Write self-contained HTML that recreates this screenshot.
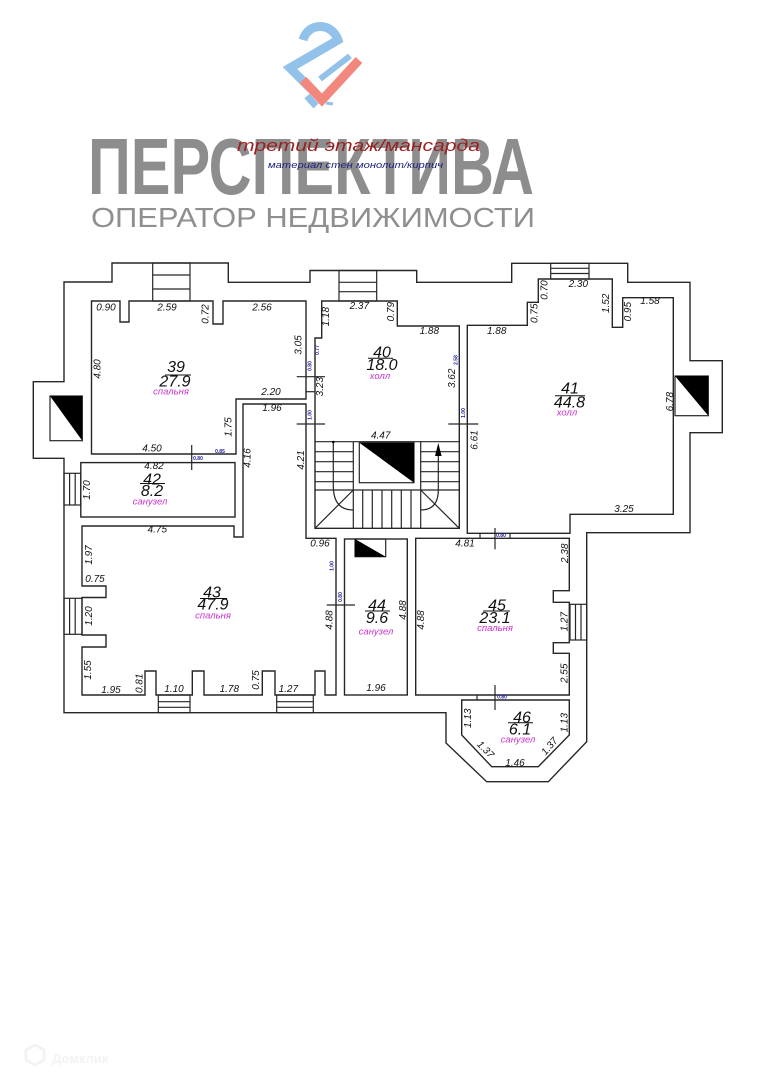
<!DOCTYPE html>
<html><head><meta charset="utf-8">
<style>
html,body{margin:0;padding:0;background:#fff;}
svg{display:block;}
.w{fill:none;stroke:#262626;stroke-width:1.4;}
.t{stroke:#262626;stroke-width:1.2;fill:none;}
.d{font-family:"Liberation Sans",sans-serif;font-style:italic;font-size:10px;fill:#111;}
.n{font-family:"Liberation Sans",sans-serif;font-style:italic;font-size:16px;fill:#111;}
.m{font-family:"Liberation Sans","DejaVu Sans",sans-serif;font-style:italic;font-size:9.5px;fill:#cc33cc;}
.b{font-family:"Liberation Sans",sans-serif;font-weight:bold;font-size:5px;fill:#1c1ca0;}
</style></head>
<body>
<svg width="763" height="1079" viewBox="0 0 763 1079" xmlns="http://www.w3.org/2000/svg">
<rect width="763" height="1079" fill="#fff"/>

<!-- LOGO -->
<g fill="none" stroke-linejoin="miter">
<path d="M303,40 C308,22 332,22 338,40 L290,68 L310,88" stroke="#92c2ea" stroke-width="9"/>
<path d="M320,79 L350,56" stroke="#92c2ea" stroke-width="6"/>
<path d="M307,96 L316,106" stroke="#92c2ea" stroke-width="7"/>
<path d="M326,103 L333,104" stroke="#92c2ea" stroke-width="3"/>
<path d="M303,80 L322,100 L359,60" stroke="#f2877e" stroke-width="9"/>
</g>
<text x="88" y="194" font-family="Liberation Sans, sans-serif" font-weight="bold" font-size="80" fill="#8d8d8d" textLength="446" lengthAdjust="spacingAndGlyphs">ПЕРСПЕКТИВА</text>
<text x="91" y="227" font-family="Liberation Sans, sans-serif" font-size="28" fill="#8f8f8f" textLength="444" lengthAdjust="spacingAndGlyphs">ОПЕРАТОР НЕДВИЖИМОСТИ</text>
<text x="237" y="151" font-family="Liberation Sans, sans-serif" font-style="italic" font-size="17" fill="#9c1f1f" textLength="243" lengthAdjust="spacingAndGlyphs">третий этаж/мансарда</text>
<text x="268" y="168" font-family="Liberation Sans, sans-serif" font-style="italic" font-size="9.5" fill="#1a237e" textLength="175" lengthAdjust="spacingAndGlyphs">материал стен монолит/кирпич</text>

<!-- OUTER WALL -->
<polygon class="w" points="64,381.7 64,282 112,282 112,263 228.3,263 228.3,282.3 310,282.3 310,270.5 416.7,270.5 416.7,282.3 511.7,282.3 511.7,263.3 627.7,263.3 627.7,282.3 690,282.3 690,360.7 722.3,360.7 722.3,432.7 690,432.7 690,532.7 586.7,532.7 586.7,741.7 548.3,781.7 486.7,781.7 446,743 446,712.7 64,712.7 64,458.3 33.3,458.3 33.3,381.7"/>

<!-- ROOMS -->
<polygon class="w" points="91.5,301 120,301 120,322 129,322 129,301 213,301 213,324 223,324 223,301 306,301 306,399 236,399 236,454 91.5,454"/>
<rect class="w" x="80.8" y="462.6" width="154.2" height="54.4"/>
<polygon class="w" points="82,526 234,526 234,537 243,537 243,404 306,404 306,538.3 336,538.3 336,695 325,695 325,671 315,671 315,695 275,695 275,671 262.3,671 262.3,695 204,695 204,671 192.3,671 192.3,695 156,695 156,671 145,671 145,695 82,695 82,647 106,647 106,635 82,635 82,597.5 106,597.5 106,586 82,586"/>
<polygon class="w" points="321.7,301 397.3,301 397.3,326 459.3,326 459.3,528.3 315,528.3 315,338 321.7,338"/>
<polygon class="w" points="467.3,325.3 527.3,325.3 527.3,302.3 538.3,302.3 538.3,279 612.3,279 612.3,327.3 622.7,327.3 622.7,297.7 673.3,297.7 673.3,514.3 570,514.3 570,533.3 467.3,533.3"/>
<rect class="w" x="344.5" y="539" width="62.8" height="156"/>
<polygon class="w" points="415.7,538.3 569.3,538.3 569.3,590.7 553.3,590.7 553.3,602.3 569.3,602.3 569.3,642.7 553.3,642.7 553.3,653.3 569.3,653.3 569.3,695 415.7,695"/>
<polygon class="w" points="461.7,700 569.3,700 569.3,735 538.3,766.7 491.7,766.7 461.7,735"/>
<line class="t" x1="306" y1="391.7" x2="315" y2="391.7"/>

<!-- WINDOWS -->
<g class="t">
<rect x="152.7" y="263" width="37.3" height="38"/><line x1="152.7" y1="275" x2="190" y2="275"/><line x1="152.7" y1="289" x2="190" y2="289"/>
<rect x="339" y="270.5" width="37.7" height="30.5"/><line x1="339" y1="282.3" x2="376.7" y2="282.3"/><line x1="339" y1="291.7" x2="376.7" y2="291.7"/>
<rect x="550.7" y="263.3" width="38.3" height="15.7"/><line x1="550.7" y1="268.3" x2="589" y2="268.3"/><line x1="550.7" y1="273.5" x2="589" y2="273.5"/>
<rect x="64" y="473.3" width="16.8" height="31.7"/><line x1="69.6" y1="473.3" x2="69.6" y2="505"/><line x1="75.2" y1="473.3" x2="75.2" y2="505"/>
<rect x="64" y="598.3" width="18" height="36"/><line x1="69.6" y1="598.3" x2="69.6" y2="634.3"/><line x1="75.2" y1="598.3" x2="75.2" y2="634.3"/>
<rect x="158.3" y="695" width="31.7" height="17.7"/><line x1="158.3" y1="701.7" x2="190" y2="701.7"/><line x1="158.3" y1="707.3" x2="190" y2="707.3"/>
<rect x="276.7" y="695" width="36.6" height="17.7"/><line x1="276.7" y1="701.7" x2="313.3" y2="701.7"/><line x1="276.7" y1="707.3" x2="313.3" y2="707.3"/>
<rect x="570" y="604.3" width="16.7" height="35.7"/><line x1="575.5" y1="604.3" x2="575.5" y2="640"/><line x1="581" y1="604.3" x2="581" y2="640"/>
</g>

<!-- VENTS -->
<rect class="t" x="50" y="396" width="32.3" height="44.7"/><polygon points="50,396 82.3,396 82.3,440.7" fill="#000"/>
<rect class="t" x="675" y="376" width="33.3" height="39.7"/><polygon points="675,376 708.3,376 708.3,415.7" fill="#000"/>
<rect class="t" x="359.3" y="442.7" width="54.7" height="40"/><polygon points="359.3,442.7 414,442.7 414,482.7" fill="#000"/>
<rect class="t" x="355" y="539" width="30.7" height="17.7"/><polygon points="355,539 385.7,556.7 355,556.7" fill="#000"/>

<!-- STAIRS -->
<g class="t">
<line x1="315" y1="441.7" x2="459.3" y2="441.7"/>
<line x1="315" y1="490" x2="459.3" y2="490"/>
<line x1="353.3" y1="441.7" x2="353.3" y2="528.3"/>
<line x1="420.7" y1="441.7" x2="420.7" y2="528.3"/>
<line x1="315" y1="451.7" x2="353.3" y2="451.7"/><line x1="315" y1="461.7" x2="353.3" y2="461.7"/><line x1="315" y1="471.7" x2="353.3" y2="471.7"/><line x1="315" y1="481.7" x2="353.3" y2="481.7"/>
<line x1="420.7" y1="451.7" x2="459.3" y2="451.7"/><line x1="420.7" y1="461.7" x2="459.3" y2="461.7"/><line x1="420.7" y1="471.7" x2="459.3" y2="471.7"/><line x1="420.7" y1="481.7" x2="459.3" y2="481.7"/>
<line x1="362.7" y1="490" x2="362.7" y2="528.3"/><line x1="372.3" y1="490" x2="372.3" y2="528.3"/><line x1="382" y1="490" x2="382" y2="528.3"/><line x1="391.7" y1="490" x2="391.7" y2="528.3"/><line x1="401.3" y1="490" x2="401.3" y2="528.3"/><line x1="411" y1="490" x2="411" y2="528.3"/>
<line x1="315" y1="528.3" x2="353.3" y2="490"/>
<line x1="420.7" y1="490" x2="459.3" y2="528.3"/>
<path d="M333.3,442 L333.3,486 Q333.3,510 353.3,510"/>
<path d="M420.7,510 Q438.3,510 438.3,490 L438.3,450"/>
</g>
<polygon points="438.3,443 435,456 441.6,456" fill="#000"/>
<circle cx="333.3" cy="442" r="1.3" fill="#000"/>

<!-- DOOR TICKS -->
<g class="t">
<line x1="296.7" y1="376.7" x2="325" y2="376.7"/>
<line x1="296.7" y1="424" x2="325" y2="424"/>
<line x1="448.3" y1="424" x2="478.3" y2="424"/>
<line x1="191.7" y1="445" x2="191.7" y2="470"/>
<line x1="326.7" y1="605" x2="355" y2="605"/>
<line x1="495" y1="528" x2="495" y2="549.3"/>
<line x1="495" y1="685" x2="495" y2="710"/>
<line x1="480" y1="533.3" x2="480" y2="538.3"/>
<line x1="510" y1="533.3" x2="510" y2="538.3"/>
<line x1="477" y1="695" x2="477" y2="700"/>
</g>

<!-- BLUE DOOR LABELS -->
<g class="b" text-anchor="middle" dominant-baseline="central">
<text transform="translate(310.5,366) rotate(-90)">0.80</text>
<text transform="translate(317.8,350) rotate(-90)">0.77</text>
<text transform="translate(310.5,415) rotate(-90)">1.00</text>
<text transform="translate(464,413) rotate(-90)">1.00</text>
<text transform="translate(456.7,360) rotate(-90)">2.58</text>
<text x="198" y="459">0.80</text>
<text x="220" y="452">0.85</text>
<text transform="translate(332.7,566) rotate(-90)">1.00</text>
<text transform="translate(341,597) rotate(-90)">0.80</text>
<text x="501" y="536">0.80</text>
<text x="502" y="697.5">0.80</text>
</g>

<!-- DIMENSIONS -->
<g class="d" text-anchor="middle" dominant-baseline="central">
<!-- 39 -->
<text x="106" y="308">0.90</text>
<text x="167" y="308">2.59</text>
<text transform="translate(206,314) rotate(-90)">0.72</text>
<text x="262" y="308">2.56</text>
<text transform="translate(299,345) rotate(-90)">3.05</text>
<text transform="translate(98,369) rotate(-90)">4.80</text>
<text x="271" y="392.5">2.20</text>
<text transform="translate(229,427) rotate(-90)">1.75</text>
<text x="152" y="449">4.50</text>
<text x="272" y="408.5">1.96</text>
<text transform="translate(248,458) rotate(-90)">4.16</text>
<!-- 42 -->
<text x="154" y="466.5">4.82</text>
<text transform="translate(87.3,490) rotate(-90)">1.70</text>
<!-- 43 -->
<text x="157.3" y="530">4.75</text>
<text transform="translate(89.3,555) rotate(-90)">1.97</text>
<text x="95" y="579.3">0.75</text>
<text transform="translate(89.3,616) rotate(-90)">1.20</text>
<text transform="translate(88.3,670) rotate(-90)">1.55</text>
<text x="111" y="690.7">1.95</text>
<text transform="translate(140,683.3) rotate(-90)">0.81</text>
<text x="174" y="689.3">1.10</text>
<text x="229.3" y="689.3">1.78</text>
<text transform="translate(256.7,680) rotate(-90)">0.75</text>
<text x="288.3" y="689.3">1.27</text>
<text x="320" y="544">0.96</text>
<text transform="translate(330,620) rotate(-90)">4.88</text>
<text transform="translate(301.7,460) rotate(-90)">4.21</text>
<!-- 44 -->
<text transform="translate(403.3,610) rotate(-90)">4.88</text>
<text x="376" y="688.3">1.96</text>
<!-- 45 -->
<text x="465" y="544">4.81</text>
<text transform="translate(565.7,553.3) rotate(-90)">2.38</text>
<text transform="translate(421.7,620) rotate(-90)">4.88</text>
<text transform="translate(565,621.7) rotate(-90)">1.27</text>
<text transform="translate(565,673.3) rotate(-90)">2.55</text>
<!-- 46 -->
<text transform="translate(468.3,718.3) rotate(-90)">1.13</text>
<text transform="translate(565,722.7) rotate(-90)">1.13</text>
<text transform="translate(485,750) rotate(45)">1.37</text>
<text transform="translate(550,746.7) rotate(-50)">1.37</text>
<text x="515" y="763.3">1.46</text>
<!-- 40 -->
<text transform="translate(326.7,316.7) rotate(-90)">1.18</text>
<text x="359.3" y="306.7">2.37</text>
<text transform="translate(391.7,311.7) rotate(-90)">0.79</text>
<text x="429.3" y="331.7">1.88</text>
<text transform="translate(452.3,378.3) rotate(-90)">3.62</text>
<text transform="translate(320.7,386.7) rotate(-90)">3.23</text>
<text x="380.7" y="436">4.47</text>
<text transform="translate(475,440) rotate(-90)">6.61</text>
<!-- 41 -->
<text transform="translate(545,290) rotate(-90)">0.70</text>
<text x="578.3" y="284.3">2.30</text>
<text transform="translate(606.7,303.3) rotate(-90)">1.52</text>
<text transform="translate(628.3,311.7) rotate(-90)">0.95</text>
<text x="650" y="301.7">1.58</text>
<text transform="translate(535,313.3) rotate(-90)">0.75</text>
<text x="496.7" y="331.7">1.88</text>
<text transform="translate(670.7,401.7) rotate(-90)">6.78</text>
<text x="624" y="509.3">3.25</text>
</g>

<!-- ROOM LABELS -->
<g text-anchor="middle" dominant-baseline="central">
<text class="n" x="176" y="367.5">39</text><line x1="165" y1="375" x2="191" y2="375" stroke="#111" stroke-width="1"/><text class="n" x="175" y="382">27.9</text><text class="m" x="171" y="392">спальня</text>
<text class="n" x="152" y="480">42</text><line x1="140" y1="483.5" x2="165" y2="483.5" stroke="#111" stroke-width="1"/><text class="n" x="152" y="491.5">8.2</text><text class="m" x="150" y="502">санузел</text>
<text class="n" x="212" y="593">43</text><line x1="200" y1="598.5" x2="227" y2="598.5" stroke="#111" stroke-width="1"/><text class="n" x="213" y="605">47.9</text><text class="m" x="213" y="616">спальня</text>
<text class="n" x="377" y="606">44</text><line x1="365" y1="611" x2="390" y2="611" stroke="#111" stroke-width="1"/><text class="n" x="377" y="618.5">9.6</text><text class="m" x="376" y="632">санузел</text>
<text class="n" x="497" y="606">45</text><line x1="483" y1="611" x2="510" y2="611" stroke="#111" stroke-width="1"/><text class="n" x="495" y="618.5">23.1</text><text class="m" x="495" y="628.5">спальня</text>
<text class="n" x="522" y="718">46</text><line x1="508" y1="722.7" x2="533" y2="722.7" stroke="#111" stroke-width="1"/><text class="n" x="520" y="730">6.1</text><text class="m" x="518" y="740">санузел</text>
<text class="n" x="382" y="353">40</text><line x1="368" y1="358.3" x2="393" y2="358.3" stroke="#111" stroke-width="1"/><text class="n" x="382" y="365.5">18.0</text><text class="m" x="380" y="376.5">холл</text>
<text class="n" x="570" y="389">41</text><line x1="555" y1="395.7" x2="585" y2="395.7" stroke="#111" stroke-width="1"/><text class="n" x="569.5" y="403">44.8</text><text class="m" x="567" y="413">холл</text>
</g>

<!-- bottom watermark -->
<text x="52" y="1063" font-family="Liberation Sans, sans-serif" font-weight="bold" font-size="13" fill="#f3f3f3">Домклик</text>
<path d="M26,1060 L26,1050 L35,1045 L44,1050 L44,1060 L35,1065 Z" fill="none" stroke="#f3f3f3" stroke-width="3"/>
</svg>
</body></html>
